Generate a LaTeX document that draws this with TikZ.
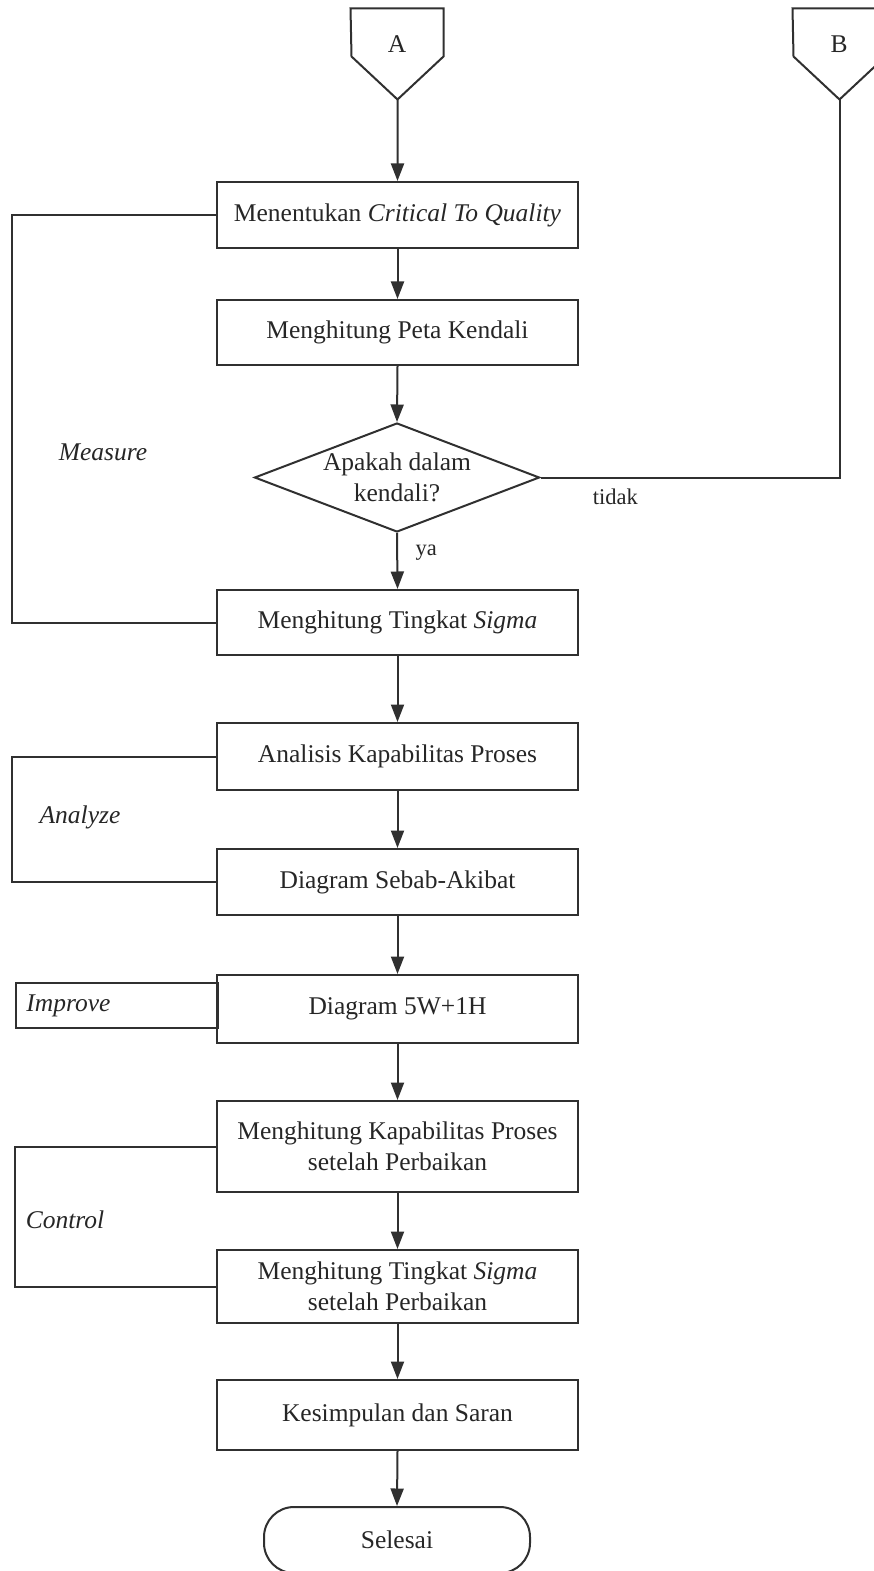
\documentclass[tikz,border=0pt]{standalone}
\usepackage{fontspec}
\setmainfont{Liberation Serif}
\usepackage{tikz}
\usetikzlibrary{arrows.meta,shapes.geometric}
\definecolor{FCLine}{HTML}{303030}
\definecolor{FCText}{HTML}{262626}
\newcommand{\fcfont}{\fontsize{10.2}{12.2}\selectfont}
\tikzset{
  fcline/.style={draw=FCLine,line width=0.8pt},
  fcarrow/.style={fcline,-{Triangle[width=5.2pt,length=7pt]}},
  procbox/.style={fcline,rectangle,minimum width=144.4pt,inner sep=2pt,align=center,text=FCText,font=\fcfont},
  decision/.style={fcline,diamond,minimum width=114pt,minimum height=43.6pt,inner sep=0pt},
  terminal/.style={fcline,rectangle,rounded corners=12pt,minimum width=106.4pt,minimum height=26.4pt,text=FCText,font=\fcfont},
  offpage/.style={minimum width=36.8pt,minimum height=28pt,inner sep=0pt,text=FCText,font=\fcfont},
  phase/.style={text=FCText,font=\fcfont\itshape},
  phasebox/.style={fcline,rectangle,minimum width=80.5pt,minimum height=18pt,text width=72.5pt,inner xsep=4pt,inner ysep=0pt,align=left,text=FCText,font=\fcfont\itshape},
  answer/.style={text=FCText,font=\fontsize{9}{11}\selectfont,inner sep=2pt}
}
\begin{document}
\begin{tikzpicture}[x=0.4pt,y=-0.4pt]
\path[use as bounding box] (0,0) rectangle (873,1571);
\node[offpage] (A) at (397,44) {A};
\draw[fcline] (A.north west) -- (A.north east) -- ++(0,48) -- ++(-46,43) coordinate (Atip) -- ++(-46,-43) -- cycle;
\node[offpage] (B) at (839,44) {B};
\draw[fcline] (B.north west) -- (B.north east) -- ++(0,48) -- ++(-46,43) coordinate (Btip) -- ++(-46,-43) -- cycle;
\node[procbox,minimum height=26.4pt] (ctq) at (397.5,215) {Menentukan \textit{Critical To Quality}};
\node[procbox,minimum height=26pt] (peta) at (397.5,332.5) {Menghitung Peta Kendali};
\node[decision,label={[align=center,text=FCText,font=\fcfont]center:{Apakah dalam\\kendali?}}] (dec) at (397,477.5) {};
\node[procbox,minimum height=26pt] (sig1) at (397.5,622.5) {Menghitung Tingkat \textit{Sigma}};
\node[procbox,minimum height=26.8pt] (ana) at (397.5,756.5) {Analisis Kapabilitas Proses};
\node[procbox,minimum height=26.4pt] (seb) at (397.5,882) {Diagram Sebab-Akibat};
\node[procbox,minimum height=27.2pt] (w5) at (397.5,1009) {Diagram 5W+1H};
\node[procbox,minimum height=36.4pt] (kap) at (397.5,1146.5) {Menghitung Kapabilitas Proses\\setelah Perbaikan};
\node[procbox,minimum height=29.2pt] (sig2) at (397.5,1286.5) {Menghitung Tingkat \textit{Sigma}\\setelah Perbaikan};
\node[procbox,minimum height=28pt] (kes) at (397.5,1415) {Kesimpulan dan Saran};
\node[terminal] (end) at (397,1540) {Selesai};
\draw[fcarrow] (Atip) -- (ctq.north);
\draw[fcarrow] (ctq.south) -- (peta.north);
\draw[fcarrow] (peta.south) -- (dec.north);
\draw[fcarrow] (dec.south) -- node[answer,right,pos=.35,xshift=5pt]{ya} (sig1.north);
\draw[fcline] (dec.east) -- node[answer,below,pos=.25,yshift=-2pt]{tidak} (dec.east -| Btip) -- (Btip);
\draw[fcarrow] (sig1.south) -- (ana.north);
\draw[fcarrow] (ana.south) -- (seb.north);
\draw[fcarrow] (seb.south) -- (w5.north);
\draw[fcarrow] (w5.south) -- (kap.north);
\draw[fcarrow] (kap.south) -- (sig2.north);
\draw[fcarrow] (sig2.south) -- (kes.north);
\draw[fcarrow] (kes.south) -- (end.north);
\draw[fcline] (ctq.west) -- ++(-204,0) |- (sig1.west);
\draw[fcline] (ana.west) -- ++(-204,0) |- (seb.west);
\draw[fcline] (kap.west) -- ++(-201,0) |- (sig2.west);
\node[phasebox] (imp) at (117,1005.5) {Improve};
\node[phase] (meas) at (103,452) {Measure};
\node[phase] (anl) at (80,817) {Analyze};
\node[phase] (ctrl) at (65,1220) {Control};
\end{tikzpicture}
\end{document}
